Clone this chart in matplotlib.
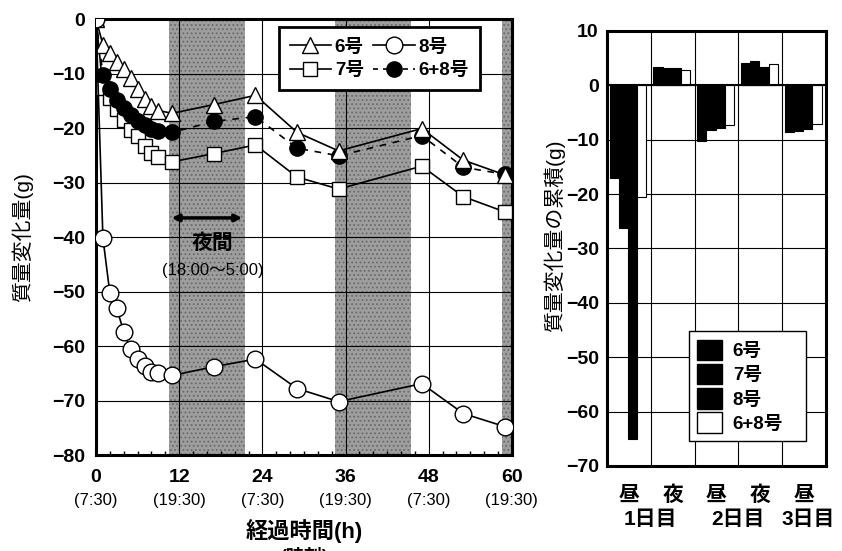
import numpy as np
import matplotlib.pyplot as plt
import matplotlib.transforms as mtransforms
from matplotlib.lines import Line2D
from matplotlib.patches import Patch

plt.rcParams['font.family'] = ['Liberation Sans', 'Noto Sans CJK JP', 'DejaVu Sans']
plt.rcParams['font.weight'] = 'bold'
plt.rcParams['hatch.linewidth'] = 0.8

# left: mass change vs elapsed time
hours = [0, 1, 2, 3, 4, 5, 6, 7, 8, 9, 11, 17, 23, 29, 35, 47, 53, 59]
no6 = [0, -4.7, -6.3, -7.8, -9.2, -10.9, -12.8, -14.6, -15.9, -16.8, -17.3,
       -15.7, -14.0, -20.8, -24.2, -20.1, -25.9, -28.6]
no7 = [0, -12.6, -14.5, -16.6, -18.6, -20.3, -21.5, -23.3, -24.5, -25.4, -26.2,
       -24.7, -23.1, -29.0, -31.2, -27.0, -32.6, -35.4]
no8 = [0, -40.2, -50.3, -53.1, -57.4, -60.6, -62.4, -63.6, -64.7, -65.0, -65.4,
       -63.8, -62.4, -67.8, -70.2, -66.9, -72.4, -74.8]
no68 = [0, -10.2, -12.8, -14.9, -16.4, -17.7, -18.7, -19.5, -20.1, -20.5, -20.8,
        -18.8, -17.9, -23.7, -25.1, -21.4, -27.2, -28.5]
nights = [(10.5, 21.5), (34.5, 45.5), (58.5, 69.5)]
hour_ticks = [0, 12, 24, 36, 48, 60]
clock = ['(7:30)', '(19:30)', '(7:30)', '(19:30)', '(7:30)', '(19:30)']

# right: cumulative change per period
periods = ['昼', '夜', '昼', '夜', '昼']
days = ['1日目', '2日目', '3日目']
cum6 = [-17.0, 3.3, -10.2, 4.2, -8.6]
cum7 = [-26.2, 3.1, -8.2, 4.5, -8.4]
cum8 = [-65.1, 3.1, -7.9, 3.4, -8.0]
cum68 = [-20.6, 2.9, -7.3, 4.0, -7.1]

fig = plt.figure(figsize=(8.42, 5.51), dpi=100)
ax = fig.add_axes([0.114, 0.1742, 0.494, 0.7913])
ax2 = fig.add_axes([0.721, 0.1543, 0.260, 0.7895])

# ---- left chart
for a, b in nights:
    ax.axvspan(a, b, facecolor='#9e9e9e', edgecolor='#6a6a6a', hatch='....', lw=0, zorder=0)
ax.grid(True, color='black', lw=0.8, zorder=1)
ax.set_axisbelow(True)

ax.plot(hours, no7, '-s', color='black', lw=1.2, ms=10, mfc='white', mec='black', mew=1, zorder=3)
ax.plot(hours, no68, '--o', color='black', lw=1.2, ms=11, mfc='black', mec='black', zorder=4,
        dashes=(4, 4))
ax.plot(hours, no6, '-^', color='black', lw=1.2, ms=12, mfc='white', mec='black', mew=1, zorder=5)
ax.plot(hours, no8, '-o', color='black', lw=1.2, ms=12, mfc='white', mec='black', mew=1, zorder=5)

ax.annotate('', xy=(nights[0][0], -36.5), xytext=(nights[0][1], -36.5),
            arrowprops=dict(arrowstyle='<|-|>', color='black', lw=2.5), zorder=6)
ax.text(16.8, -41.2, '夜間', ha='center', va='center', fontsize=15, fontweight='bold', zorder=6)
ax.text(16.8, -46.2, '(18:00～5:00)', ha='center', va='center', fontsize=12, fontweight='normal', zorder=6)

ax.set_xlim(0, 60)
ax.set_ylim(-80, 0)
ax.set_xticks(hour_ticks)
ax.set_xticks(np.arange(0, 61, 2), minor=True)
ax.set_yticks(np.arange(-80, 1, 10))
ax.tick_params(axis='y', which='major', direction='in', length=0, labelsize=14, pad=8)
ax.tick_params(axis='x', which='major', direction='in', length=0, labelsize=14, pad=10)
ax.tick_params(axis='x', which='minor', direction='in', length=3, width=1)
for s in ax.spines.values():
    s.set_linewidth(2.2)
trans = mtransforms.blended_transform_factory(ax.transData, ax.transAxes)
for h, c in zip(hour_ticks, clock):
    ax.text(h, -0.105, c, transform=trans, ha='center', va='center', fontsize=12, fontweight='normal')
ax.text(0.5, -0.175, '経過時間(h)', transform=ax.transAxes, ha='center', va='center', fontsize=16)
ax.text(0.5, -0.232, '(時刻)', transform=ax.transAxes, ha='center', va='center', fontsize=13)
ax.set_ylabel('質量変化量(g)', fontsize=15)
ax.yaxis.set_label_coords(-0.15, 0.5)

h_l = [Line2D([], [], color='black', lw=1.2, marker='^', ms=12, mfc='white', mec='black'),
       Line2D([], [], color='black', lw=1.2, marker='s', ms=10, mfc='white', mec='black'),
       Line2D([], [], color='black', lw=1.2, marker='o', ms=12, mfc='white', mec='black'),
       Line2D([], [], color='black', lw=1.2, marker='o', ms=11, mfc='black', mec='black', dashes=(3, 3))]
leg = ax.legend(h_l, ['6号', '7号', '8号', '6+8号'], ncol=2, loc='upper left',
                bbox_to_anchor=(0.43, 0.99), borderaxespad=0.2, fontsize=13.5, fancybox=False,
                framealpha=1, edgecolor='black', handlelength=2.2, columnspacing=0.5,
                handletextpad=0.2, borderpad=0.6, labelspacing=0.35)
leg.get_frame().set_linewidth(2)
leg.set_zorder(10)

# ---- right chart
x = np.arange(len(periods))
w = 0.21
for k, (vals, fc) in enumerate([(cum6, 'black'), (cum7, 'black'), (cum8, 'black'), (cum68, 'white')]):
    ax2.bar(x + 0.06 + k * w, vals, width=w, align='edge', color=fc, edgecolor='black', lw=0.8, zorder=3)
ax2.set_xlim(0, 5)
ax2.set_ylim(-70, 10)
ax2.set_yticks(np.arange(-70, 11, 10))
ax2.set_xticks([1, 2, 3, 4])
ax2.set_xticklabels([])
ax2.grid(True, color='black', lw=0.8, zorder=1)
ax2.set_axisbelow(True)
ax2.axhline(0, color='black', lw=1.5, zorder=4)
ax2.tick_params(axis='both', length=0, labelsize=14, pad=6)
for s in ax2.spines.values():
    s.set_linewidth(2.2)
ax2.set_ylabel('質量変化量の累積(g)', fontsize=15)
ax2.yaxis.set_label_coords(-0.19, 0.53)
trans2 = mtransforms.blended_transform_factory(ax2.transData, ax2.transAxes)
for i, p in enumerate(periods):
    ax2.text(i + 0.5, -0.068, p, transform=trans2, ha='center', va='center', fontsize=15)
for xpos, d in zip([1.0, 3.0, 4.6], days):
    ax2.text(xpos, -0.122, d, transform=trans2, ha='center', va='center', fontsize=15)

h_b = [Patch(fc='black', ec='black'), Patch(fc='black', ec='black'),
       Patch(fc='black', ec='black'), Patch(fc='white', ec='black')]
leg2 = ax2.legend(h_b, ['6号', '7号', '8号', '6+8号'], loc='lower left',
                  bbox_to_anchor=(0.33, 0.035, 0.62, 0.25), mode='expand', fontsize=13.5,
                  fancybox=False, framealpha=1, edgecolor='black', handlelength=1.3,
                  handleheight=1.3, labelspacing=0.2, handletextpad=0.6, borderpad=0.45)
leg2.get_frame().set_linewidth(1)
leg2.set_zorder(10)

fig.savefig('out.png', dpi=100)
